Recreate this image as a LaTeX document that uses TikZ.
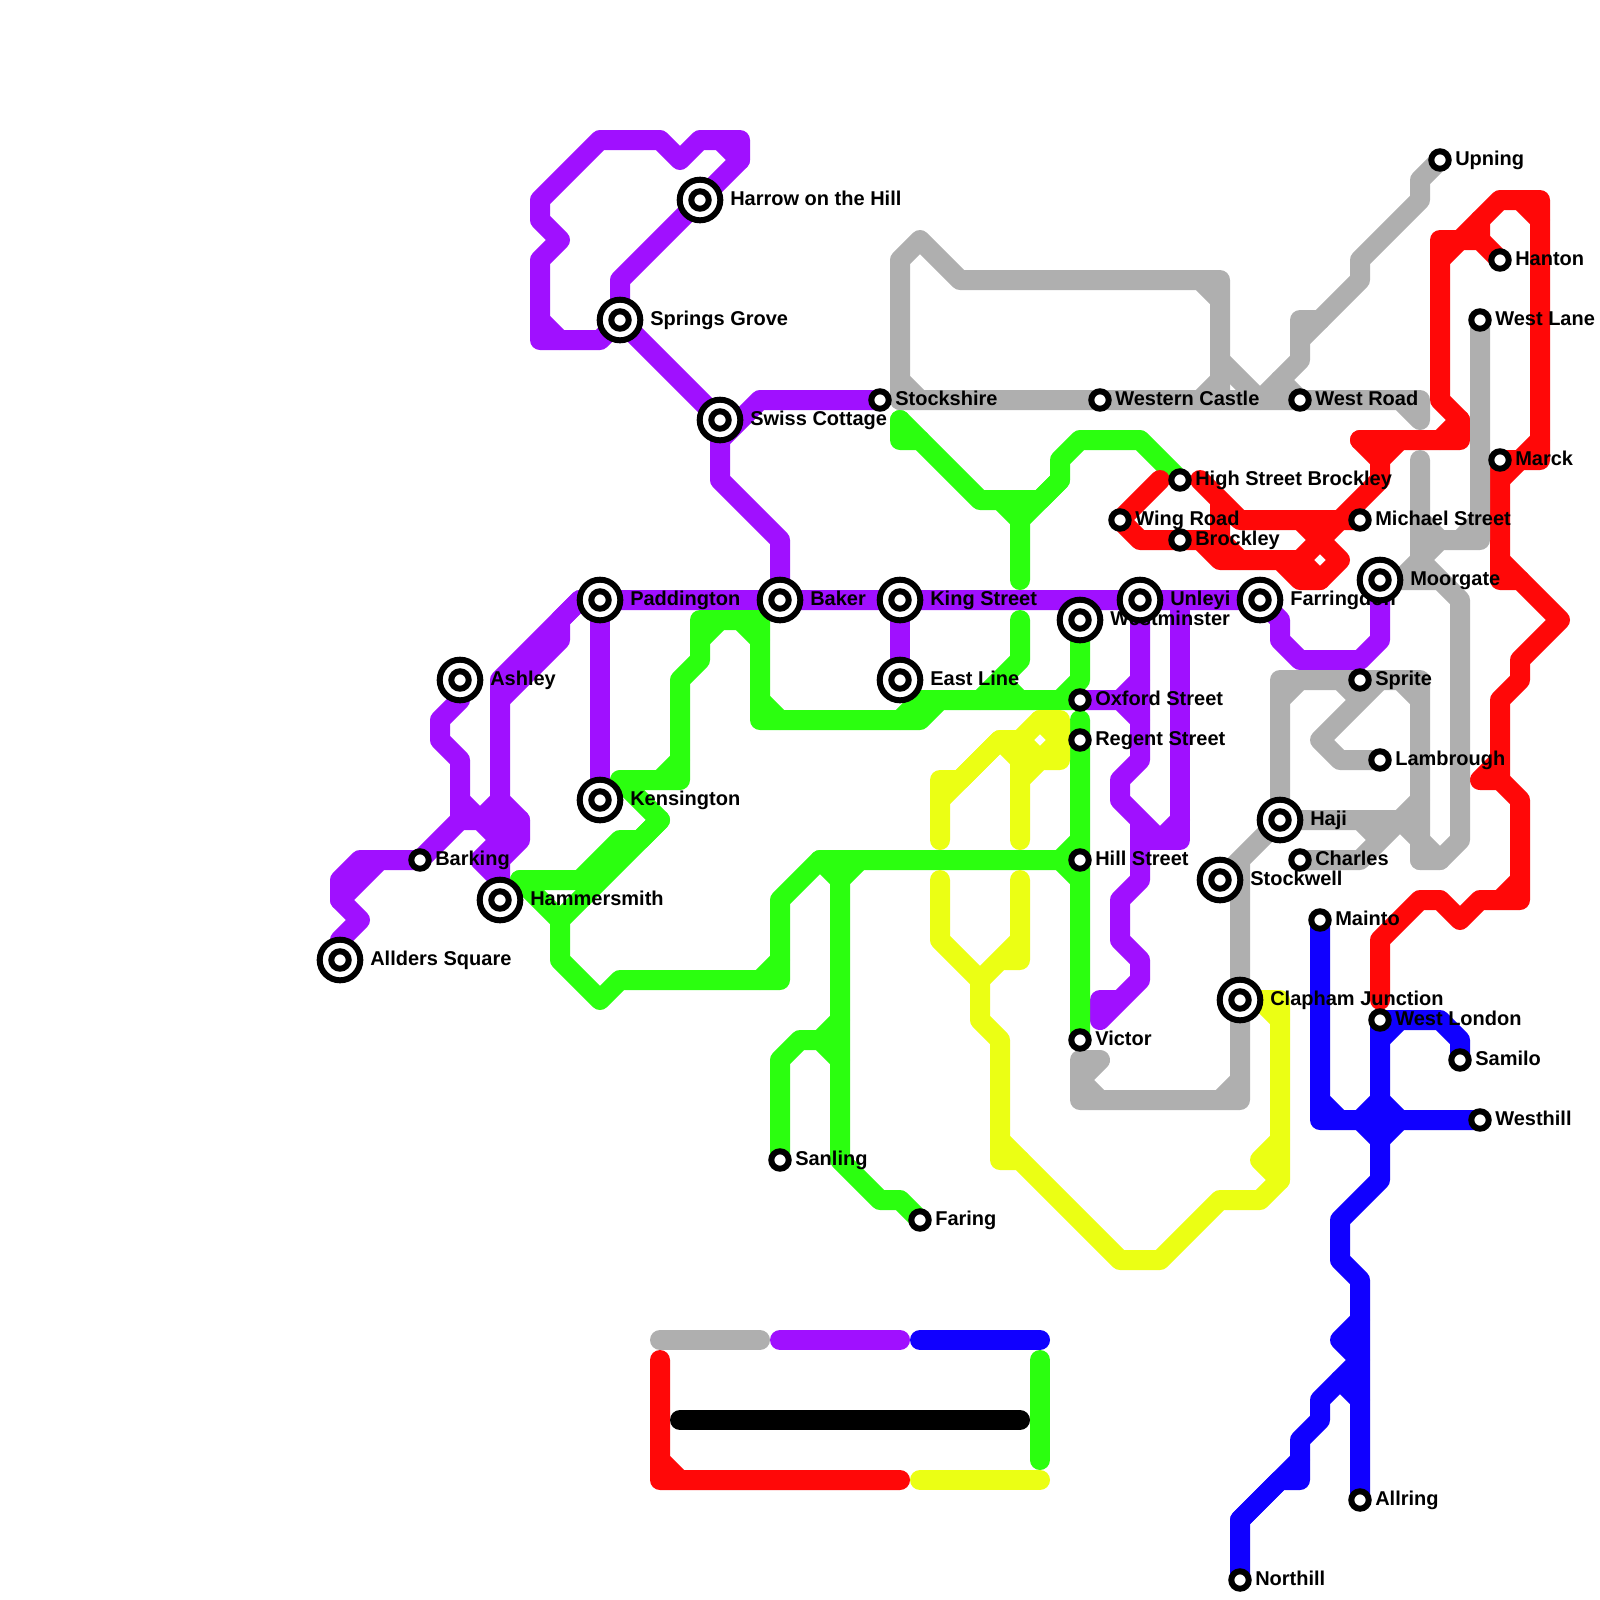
\documentclass[tikz,border=0pt]{standalone}
\usepackage{fontspec}
\setmainfont{Liberation Sans}
\definecolor{linepurple}{RGB}{160,16,255}
\definecolor{linegreen}{RGB}{43,255,15}
\definecolor{linered}{RGB}{255,8,8}
\definecolor{lineblue}{RGB}{16,0,255}
\definecolor{lineyellow}{RGB}{235,255,20}
\definecolor{linegray}{RGB}{175,175,175}
\tikzset{
  metro/.style={line width=14.226pt,line cap=round,line join=round},
  hub/.style={circle,draw=black,fill=white,line width=4.27pt,minimum size=28.9pt,inner sep=0pt,outer sep=0pt},
  halt/.style={circle,draw=black,fill=white,line width=4.27pt,minimum size=12.4pt,inner sep=0pt,outer sep=0pt},
  stoptext/.style={anchor=base west,inner sep=0pt,font=\fontsize{14.226}{16}\selectfont\bfseries,yshift=-3.56pt},
  hubtext/.style={stoptext,xshift=21.34pt},
  halttext/.style={stoptext,xshift=10.67pt},
}
\begin{document}
\begin{tikzpicture}[x=0.5cm,y=-0.5cm]
  \useasboundingbox (0,0) rectangle (80,80);
  \foreach \nm/\px/\py in {allders/17/48,barking/21/43,ashley/23/34,hammersmith/25/45,paddington/30/30,
      kensington/30/40,springs/31/16,harrow/35/10,swiss/36/21,baker/39/30,sanling/39/58,stockshire/44/20,
      kingstreet/45/30,eastline/45/34,faring/46/61,westminster/54/31,oxford/54/35,regent/54/37,
      hillstreet/54/43,victor/54/52,westerncastle/55/20,wingroad/56/26,unleyi/57/30,highstreet/59/24,
      brockley/59/27,stockwell/61/44,clapham/62/50,northill/62/79,farringdon/63/30,haji/64/41,westroad/65/20,
      charles/65/43,mainto/66/46,michael/68/26,sprite/68/34,allring/68/75,moorgate/69/29,lambrough/69/38,
      westlondon/69/51,upning/72/8,samilo/73/53,westlane/74/16,westhill/74/56,hanton/75/13,marck/75/23}
    \coordinate (\nm) at (\px,\py);

  \draw[metro,linepurple] (swiss) -- (springs) -- (30,17) -- (27,17) -- (27,13) -- (28,12) -- (27,11) -- (27,10)
    -- (30,7) -- (33,7) -- (34,8) -- (35,7) -- (37,7) -- (37,8) -- (harrow) -- (31,14) -- (springs);
  \draw[metro,linepurple] (27,16) -- (28,17) (36,7) -- (37,8);
  \draw[metro,linepurple] (stockshire) -- (38,20) -- (36,22) (swiss) -- (36,24) -- (39,27) -- (baker);
  \draw[metro,linepurple] (paddington) -- (farringdon) -- (64,31) -- (64,32) -- (65,33) -- (68,33) -- (69,32) -- (moorgate);
  \draw[metro,linepurple] (kingstreet) -- (eastline) (paddington) -- (kensington);
  \draw[metro,linepurple] (29,30) -- (25,34) -- (hammersmith) (25,40) -- (26,41) -- (26,42) -- (25,43);
  \draw[metro,linepurple] (29,30) -- (28,31) -- (28,32) -- (25,35);
  \draw[metro,linepurple] (ashley) -- (23,35) -- (22,36) -- (22,37) -- (23,38) -- (23,41) -- (barking) -- (19,43)
    -- (17,45) -- (18,46) -- (17,47) -- (allders);
  \draw[metro,linepurple] (19,43) -- (18,43) -- (17,44) -- (17,45);
  \draw[metro,linepurple] (23,41) -- (26,41) (23,40) -- (25,42) -- (24,43) -- (25,44) (25,40) -- (24,41);
  \draw[metro,linepurple] (oxford) -- (56,35) -- (57,34) (56,35) -- (57,36);
  \draw[metro,linepurple] (unleyi) -- (57,38) -- (56,39) -- (56,40) -- (58,42) -- (59,41) (57,41) -- (57,44) -- (56,45)
    -- (56,47) -- (57,48) -- (57,49) -- (56,50) -- (55,50) -- (55,51) -- (57,49);
  \draw[metro,linepurple] (59,30) -- (59,42) -- (57,42);

  \draw[metro,linegreen] (26,44) -- (29,44) -- (31,42) -- (32,42) -- (33,41) -- (31,39) -- (34,39) -- (34,34) -- (35,33)
    -- (35,31) -- (38,31) -- (38,36) -- (46,36) -- (47,35) -- (oxford);
  \draw[metro,linegreen] (33,39) -- (34,38) (35,32) -- (36,31) (37,31) -- (38,32) (38,35) -- (39,36) (45,36) -- (46,35) -- (47,35);
  \draw[metro,linegreen] (33,41) -- (28,46) -- (26,44) (28,46) -- (28,48) -- (30,50) -- (31,49) -- (39,49) -- (39,45)
    -- (41,43) -- (hillstreet);
  \draw[metro,linegreen] (38,49) -- (39,48);
  \draw[metro,linegreen] (41,43) -- (42,44) -- (42,58) -- (44,60) -- (45,60) -- (faring) (43,43) -- (42,44);
  \draw[metro,linegreen] (sanling) -- (39,53) -- (40,52) -- (41,52) -- (42,51) (41,52) -- (42,53);
  \draw[metro,linegreen] (51,31) -- (51,33) -- (49,35) (50,34) -- (51,35);
  \draw[metro,linegreen] (45,21) -- (49,25) -- (52,25) -- (53,24) -- (53,23) -- (54,22) -- (57,22) -- (highstreet);
  \draw[metro,linegreen] (45,21) -- (45,22) -- (46,22) (50,25) -- (51,26) -- (51,29) (53,24) -- (51,26);
  \draw[metro,linegreen] (westminster) -- (54,34) -- (53,35) (54,36) -- (victor) (53,43) -- (54,42) (53,43) -- (54,44);

  \draw[metro,lineyellow] (47,42) -- (47,39) -- (48,39) -- (50,37) -- (51,37) -- (52,36) -- (53,36) -- (53,38) -- (52,38)
    -- (51,39) -- (51,42);
  \draw[metro,lineyellow] (47,40) -- (50,37) -- (51,38) -- (51,39) (51,37) -- (52,38) -- (53,37) -- (52,36);
  \draw[metro,lineyellow] (47,44) -- (47,47) -- (49,49) -- (49,51) -- (50,52) -- (50,58) -- (51,58) -- (56,63) -- (58,63)
    -- (61,60) -- (63,60) -- (64,59) -- (64,50) -- (clapham);
  \draw[metro,lineyellow] (51,44) -- (51,48) -- (50,48) -- (49,49) (51,47) -- (49,49) (50,57) -- (51,58);
  \draw[metro,lineyellow] (63,50) -- (64,51) (64,57) -- (63,58) -- (64,59);

  \draw[metro,linered] (wingroad) -- (58,24) (wingroad) -- (57,27) -- (brockley) -- (61,27) -- (62,28);
  \draw[metro,linered] (60,27) -- (61,28) -- (65,28) (64,28) -- (65,29) -- (66,29) -- (67,28) -- (66,27) -- (65,26);
  \draw[metro,linered] (60,24) -- (62,26) -- (michael) (61,25) -- (61,27);
  \draw[metro,linered] (68,22) -- (73,22) -- (73,21) -- (72,20) -- (72,12) -- (74,12) -- (hanton);
  \draw[metro,linered] (73,21) -- (72,22) (68,22) -- (69,23) -- (69,24) -- (65,28) -- (66,29) (70,22) -- (69,23);
  \draw[metro,linered] (72,13) -- (75,10) -- (77,10) -- (77,23) -- (marck) -- (75,29) -- (76,29) -- (78,31) -- (76,33)
    -- (76,34) -- (75,35) -- (75,39) -- (74,39) -- (75,38);
  \draw[metro,linered] (74,11) -- (74,12) (76,10) -- (77,11) (77,22) -- (75,24) (75,28) -- (76,29);
  \draw[metro,linered] (75,39) -- (76,40) -- (76,45) -- (74,45) -- (73,46) -- (72,45) -- (71,45) -- (69,47) -- (69,50)
    (75,45) -- (76,44);

  \draw[metro,linegray] (45,20) -- (westerncastle) -- (westroad) -- (71,20) -- (71,21) (70,20) -- (71,21);
  \draw[metro,linegray] (45,20) -- (45,13) -- (46,12) -- (48,14) -- (61,14) -- (61,20) (45,19) -- (46,20) (60,14) -- (61,15)
    (60,20) -- (61,19);
  \draw[metro,linegray] (61,18) -- (63,20) -- (65,18) -- (65,16) -- (66,16) -- (68,14) -- (68,13) -- (71,10) -- (71,9) -- (upning);
  \draw[metro,linegray] (65,17) -- (66,16) (64,19) -- (65,20);
  \draw[metro,linegray] (71,23) -- (71,28) -- (72,29) (moorgate) -- (72,29) -- (73,30) -- (73,42) -- (72,43) -- (71,43);
  \draw[metro,linegray] (70,29) -- (72,27) -- (74,27) -- (westlane) (71,26) -- (72,27) (73,27) -- (74,26);
  \draw[metro,linegray] (haji) -- (64,34) -- (71,34) -- (71,43) (64,35) -- (65,34) (70,34) -- (71,35);
  \draw[metro,linegray] (haji) -- (70,41) -- (71,40) (70,41) -- (72,43) (70,41) -- (68,43) -- (charles) (68,41) -- (69,42);
  \draw[metro,linegray] (67,34) -- (68,35) (69,34) -- (66,37) -- (67,38) -- (lambrough);
  \draw[metro,linegray] (haji) -- (stockwell) (62,43) -- (62,55) -- (54,55) -- (54,53) -- (55,53) -- (54,54) -- (55,55)
    (61,55) -- (62,54);

  \draw[metro,lineblue] (mainto) -- (66,56) -- (westhill) (66,55) -- (67,56);
  \draw[metro,lineblue] (westlondon) -- (69,59) -- (67,61) -- (67,63) -- (68,64) -- (allring);
  \draw[metro,lineblue] (68,56) -- (69,55) -- (70,56) -- (69,57) -- cycle;
  \draw[metro,lineblue] (westlondon) -- (72,51) -- (73,52) -- (samilo) (69,52) -- (70,51);
  \draw[metro,lineblue] (68,66) -- (67,67) -- (68,68) -- (66,70) -- (66,71) -- (65,72) -- (65,74) -- (64,74) -- (62,76) -- (northill);
  \draw[metro,lineblue] (67,69) -- (68,70) (65,73) -- (62,76);

  \draw[metro,linegray] (33,67) -- (38,67);
  \draw[metro,linepurple] (39,67) -- (45,67);
  \draw[metro,lineblue] (46,67) -- (52,67);
  \draw[metro,linegreen] (52,68) -- (52,73);
  \draw[metro,lineyellow] (46,74) -- (52,74);
  \draw[metro,linered] (33,68) -- (33,74) -- (45,74) (33,73) -- (34,74);
  \draw[metro,black] (34,71) -- (51,71);

  \foreach \nm/\txt in {allders/Allders Square,ashley/Ashley,hammersmith/Hammersmith,paddington/Paddington,
      kensington/Kensington,springs/Springs Grove,harrow/Harrow on the Hill,swiss/Swiss Cottage,baker/Baker,
      kingstreet/King Street,eastline/East Line,westminster/Westminster,unleyi/Unleyi,stockwell/Stockwell,
      clapham/Clapham Junction,farringdon/Farringdon,haji/Haji,moorgate/Moorgate}
    \node[hubtext] (\nm-text) at (\nm) {\txt};
  \foreach \nm/\txt in {barking/Barking,sanling/Sanling,stockshire/Stockshire,faring/Faring,oxford/Oxford Street,
      regent/Regent Street,hillstreet/Hill Street,victor/Victor,westerncastle/Western Castle,wingroad/Wing Road,
      highstreet/High Street Brockley,brockley/Brockley,northill/Northill,westroad/West Road,charles/Charles,
      mainto/Mainto,michael/Michael Street,sprite/Sprite,allring/Allring,lambrough/Lambrough,westlondon/West London,
      upning/Upning,samilo/Samilo,westlane/West Lane,westhill/Westhill,hanton/Hanton,marck/Marck}
    \node[halttext] (\nm-text) at (\nm) {\txt};

  \foreach \nm in {allders,ashley,hammersmith,paddington,kensington,springs,harrow,swiss,baker,kingstreet,eastline,
      westminster,unleyi,stockwell,clapham,farringdon,haji,moorgate}
    \node[hub] (\nm-ring) at (\nm) {};
  \foreach \nm in {allders,barking,ashley,hammersmith,paddington,kensington,springs,harrow,swiss,baker,sanling,
      stockshire,kingstreet,eastline,faring,westminster,oxford,regent,hillstreet,victor,westerncastle,wingroad,unleyi,
      highstreet,brockley,stockwell,clapham,northill,farringdon,haji,westroad,charles,mainto,michael,sprite,allring,
      moorgate,lambrough,westlondon,upning,samilo,westlane,westhill,hanton,marck}
    \node[halt] (\nm-stop) at (\nm) {};
\end{tikzpicture}
\end{document}
